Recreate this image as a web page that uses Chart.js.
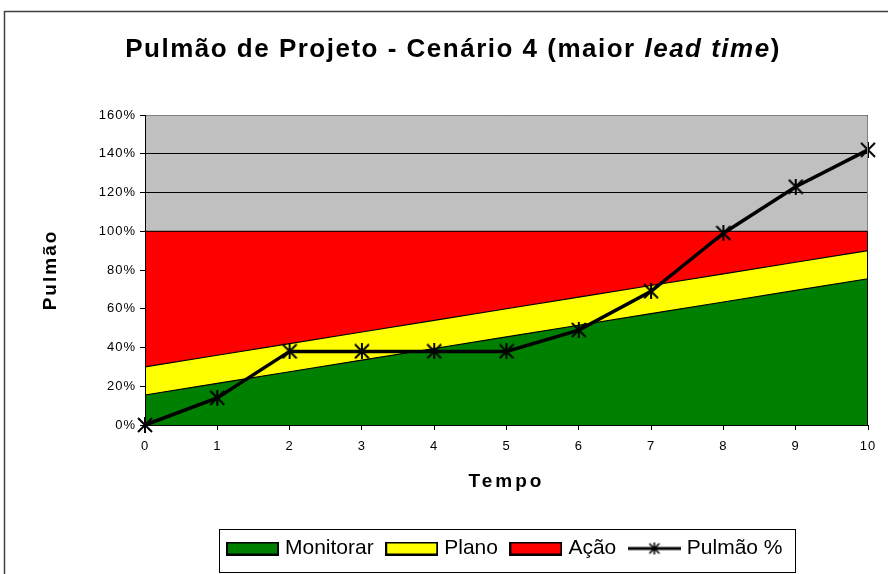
<!DOCTYPE html>
<html>
<head>
<meta charset="utf-8">
<script src="https://cdn.jsdelivr.net/npm/chart.js@4.4.0/dist/chart.umd.min.js"></script>
<style>
  html, body { margin: 0; padding: 0; background: #fff; }
  canvas { display: block; }
</style>
</head>
<body>
<canvas id="grafico" width="888" height="574"></canvas>
<script>
// dados do gráfico
const tempo = ['0', '1', '2', '3', '4', '5', '6', '7', '8', '9', '10'];
const monitorar = [15.5, 21.5, 27.5, 33.5, 39.5, 45.5, 51.5, 57.5, 63.5, 69.5, 75.5];
const plano = [14.5, 14.5, 14.5, 14.5, 14.5, 14.5, 14.5, 14.5, 14.5, 14.5, 14.5];
const acao = [70, 64, 58, 52, 46, 40, 34, 28, 22, 16, 10];
const pulmao = [0, 14, 38, 38, 38, 38, 49, 69, 99, 123, 142];
const yTicks = [0, 20, 40, 60, 80, 100, 120, 140, 160];

const FONTE = "'Liberation Sans', Arial, sans-serif";

// asterisco usado como marcador da linha
function asterisco(size, lw) {
  const c = document.createElement('canvas');
  c.width = c.height = size;
  const g = c.getContext('2d');
  g.strokeStyle = '#000';
  g.lineWidth = lw;
  const m = size / 2, r = size / 2 - 1;
  g.beginPath();
  g.moveTo(m - r, m - r); g.lineTo(m + r, m + r);
  g.moveTo(m + r, m - r); g.lineTo(m - r, m + r);
  g.moveTo(m, 0); g.lineTo(m, size);
  g.stroke();
  return c;
}

// caixinhas da legenda
function caixa(cor) {
  const c = document.createElement('canvas');
  c.width = 53; c.height = 14;
  const g = c.getContext('2d');
  g.fillStyle = cor;
  g.fillRect(1, 1, 51, 12);
  g.strokeStyle = '#000';
  g.lineWidth = 2;
  g.strokeRect(1, 1, 51, 12);
  return c;
}

function iconeLinha() {
  const c = document.createElement('canvas');
  c.width = 53; c.height = 14;
  const g = c.getContext('2d');
  g.strokeStyle = '#000';
  g.lineWidth = 3;
  g.beginPath();
  g.moveTo(0, 7); g.lineTo(53, 7);
  g.stroke();
  g.drawImage(asterisco(12, 1.6), 20.5, 1);
  return c;
}

const marcador = asterisco(16, 2);
const icones = [iconeLinha(), caixa('#008000'), caixa('#FFFF00'), caixa('#FF0000')];

// troca o espaçamento de letras só durante um desenho
function comEspaco(obj, metodo, esp) {
  const orig = obj[metodo];
  obj[metodo] = function (...args) {
    const ctx = this.ctx;
    ctx.save();
    ctx.letterSpacing = esp;
    orig.apply(this, args);
    ctx.restore();
  };
}

// fundo cinza, moldura e títulos
const desenho = {
  id: 'desenho',
  beforeUpdate(chart) {
    chart.ctx.letterSpacing = '0px';
  },
  afterUpdate(chart) {
    if (chart._espacos) return;
    comEspaco(chart.legend, 'draw', '0px');
    comEspaco(chart.scales.x, 'drawTitle', '3px');
    comEspaco(chart.scales.y, 'drawTitle', '2px');
    chart._espacos = true;
  },
  beforeDraw(chart) {
    const { ctx, chartArea: a } = chart;
    ctx.save();
    ctx.fillStyle = '#C0C0C0';
    ctx.fillRect(a.left, a.top, a.right - a.left, a.bottom - a.top);
    ctx.restore();
    ctx.letterSpacing = '1px';
  },
  afterDatasetsDraw(chart) {
    const { ctx, chartArea: a } = chart;
    const y100 = chart.scales.y.getPixelForValue(100);
    ctx.save();
    ctx.lineWidth = 1;
    ctx.strokeStyle = '#808080';
    ctx.beginPath();
    ctx.moveTo(a.left, a.top + 0.5);
    ctx.lineTo(a.right - 0.5, a.top + 0.5);
    ctx.lineTo(a.right - 0.5, y100);
    ctx.stroke();
    ctx.strokeStyle = '#000';
    ctx.beginPath();
    ctx.moveTo(a.right - 0.5, y100);
    ctx.lineTo(a.right - 0.5, a.bottom);
    ctx.stroke();
    ctx.restore();
  },
  afterDraw(chart) {
    const ctx = chart.ctx;
    ctx.save();
    // moldura externa
    ctx.strokeStyle = '#404040';
    ctx.lineWidth = 1.5;
    ctx.beginPath();
    ctx.moveTo(4.5, 600);
    ctx.lineTo(4.5, 11.5);
    ctx.lineTo(900, 11.5);
    ctx.stroke();

    // moldura da legenda
    const hb = chart.legend.legendHitBoxes;
    if (hb && hb.length) {
      const ult = hb[hb.length - 1];
      const x0 = Math.round(hb[0].left - 11.5) + 0.5;
      const x1 = Math.round(ult.left + ult.width + 13) + 0.5;
      ctx.strokeStyle = '#000';
      ctx.lineWidth = 1;
      ctx.strokeRect(x0, 529.5, x1 - x0, 43);
    }

    // título principal
    const partes = [
      ['Pulmão de Projeto - Cenário 4 (maior ', 'bold'],
      ['lead time', 'italic bold'],
      [')', 'bold']
    ];
    ctx.letterSpacing = '1.5px';
    ctx.fillStyle = '#000';
    ctx.textBaseline = 'alphabetic';
    let total = 0;
    const larguras = partes.map(([t, s]) => {
      ctx.font = s + ' 26px ' + FONTE;
      const w = ctx.measureText(t).width;
      total += w;
      return w;
    });
    let x = 453 - total / 2;
    partes.forEach(([t, s], i) => {
      ctx.font = s + ' 26px ' + FONTE;
      ctx.fillText(t, x, 57);
      x += larguras[i];
    });
    ctx.restore();
  }
};

new Chart(document.getElementById('grafico'), {
  type: 'line',
  data: {
    labels: tempo,
    datasets: [
      {
        label: 'Pulmão %',
        data: pulmao,
        stack: 'pulmao',
        fill: false,
        borderColor: '#000',
        borderWidth: 3.5,
        pointStyle: marcador,
        pointRadius: 8,
        clip: false,
        tension: 0
      },
      {
        label: 'Monitorar',
        data: monitorar,
        stack: 'zonas',
        fill: 'origin',
        backgroundColor: '#008000',
        borderColor: '#000',
        borderWidth: 1.2,
        pointRadius: 0,
        tension: 0
      },
      {
        label: 'Plano',
        data: plano,
        stack: 'zonas',
        fill: '-1',
        backgroundColor: '#FFFF00',
        borderColor: '#000',
        borderWidth: 1.2,
        pointRadius: 0,
        tension: 0
      },
      {
        label: 'Ação',
        data: acao,
        stack: 'zonas',
        fill: '-1',
        backgroundColor: '#FF0000',
        borderColor: '#000',
        borderWidth: 1.2,
        pointRadius: 0,
        tension: 0
      }
    ]
  },
  options: {
    responsive: false,
    animation: false,
    layout: { padding: { top: 115, right: 20, bottom: 5, left: 35 } },
    plugins: {
      tooltip: { enabled: false },
      title: { display: false },
      legend: {
        position: 'bottom',
        fullSize: false,
        labels: {
          usePointStyle: true,
          pointStyleWidth: 44,
          padding: 16,
          color: '#000',
          font: { family: FONTE, size: 21 },
          sort: (a, b) => ((a.datasetIndex + 3) % 4) - ((b.datasetIndex + 3) % 4),
          generateLabels(chart) {
            const itens = Chart.defaults.plugins.legend.labels.generateLabels(chart);
            itens.forEach(it => {
              it.pointStyle = icones[it.datasetIndex];
              it.lineWidth = 0;
            });
            return itens;
          }
        }
      }
    },
    scales: {
      x: {
        grid: { drawOnChartArea: false, drawTicks: true, tickLength: 5, color: '#000' },
        border: { color: '#000', width: 1, z: 1 },
        ticks: { color: '#000', font: { family: FONTE, size: 13 }, padding: 9, maxRotation: 0 },
        title: {
          display: true, text: 'Tempo', color: '#000',
          font: { family: FONTE, size: 19, weight: 'bold' },
          padding: { top: 4, bottom: 28.5 }
        },
        afterFit(s) { s.height = 97; }
      },
      y: {
        stacked: true,
        min: 0,
        max: 160,
        afterBuildTicks(s) { s.ticks = yTicks.map(v => ({ value: v })); },
        grid: { color: '#000', tickLength: 5 },
        border: { color: '#000', width: 1, z: 1 },
        ticks: {
          color: '#000', padding: 4,
          font: { family: FONTE, size: 13 },
          callback: v => v + '%'
        },
        title: {
          display: true, text: 'Pulmão', color: '#000',
          font: { family: FONTE, size: 19, weight: 'bold' },
          padding: { top: 4, bottom: 0 }
        },
        afterFit(s) { s.width = 110; }
      }
    }
  },
  plugins: [desenho]
});
</script>
</body>
</html>
